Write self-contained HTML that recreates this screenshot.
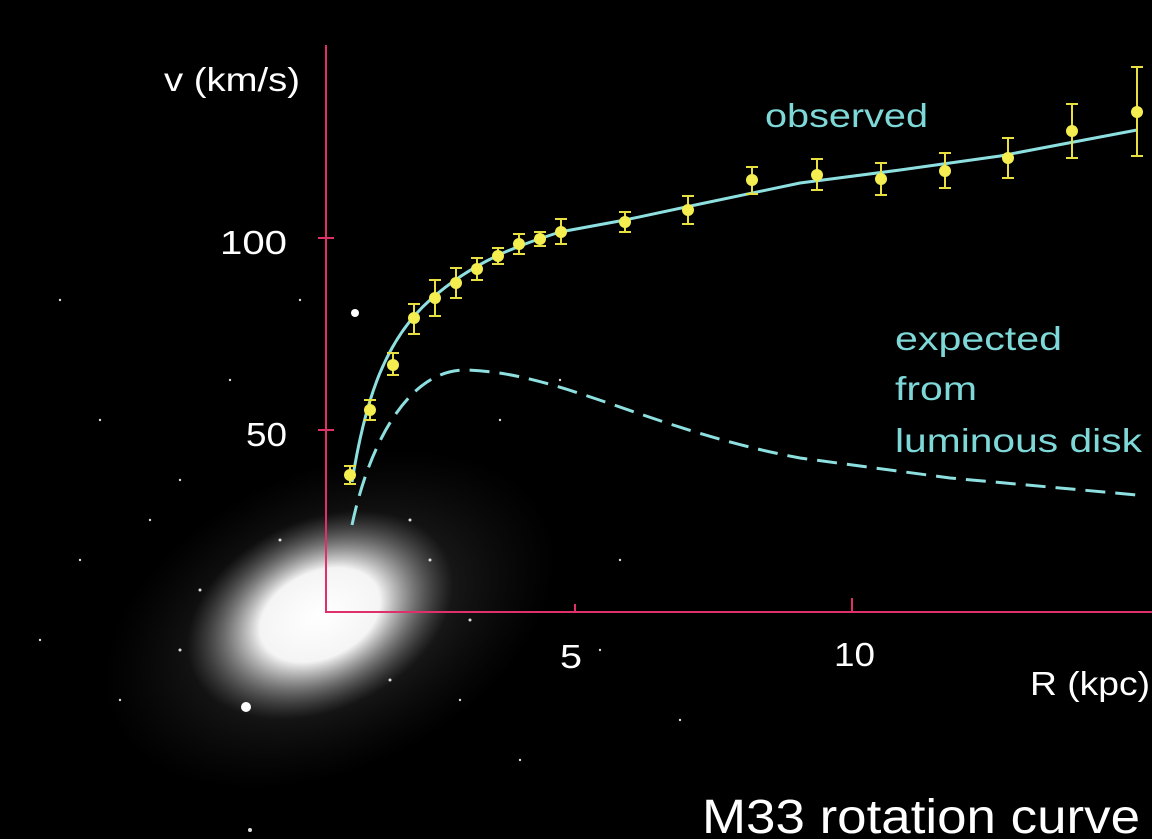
<!DOCTYPE html>
<html><head><style>
html,body{margin:0;padding:0;background:#000;overflow:hidden;width:1152px;height:839px;}
svg{display:block;}
text{font-family:"Liberation Sans",sans-serif;}
</style></head><body>
<svg width="1152" height="839" viewBox="0 0 1152 839" xmlns="http://www.w3.org/2000/svg">
<defs>
<radialGradient id="g1" cx="50%" cy="50%" r="50%">
<stop offset="0" stop-color="#fff" stop-opacity="1"/>
<stop offset="0.45" stop-color="#fff" stop-opacity="0.95"/>
<stop offset="0.7" stop-color="#ccc" stop-opacity="0.5"/>
<stop offset="1" stop-color="#888" stop-opacity="0"/>
</radialGradient>
<radialGradient id="g2" cx="50%" cy="50%" r="50%">
<stop offset="0" stop-color="#aaa" stop-opacity="0.4"/>
<stop offset="1" stop-color="#555" stop-opacity="0"/>
</radialGradient>
</defs>
<rect width="1152" height="839" fill="#000"/>
<ellipse cx="330" cy="620" rx="240" ry="150" fill="url(#g2)" transform="rotate(-25 330 620)"/>
<ellipse cx="320" cy="615" rx="140" ry="95" fill="url(#g1)" transform="rotate(-25 320 615)"/>
<g fill="#ddd">
<circle cx="355" cy="313" r="4" fill="#fff"/><circle cx="246" cy="707" r="5" fill="#fff"/>
<circle cx="100" cy="420" r="1.2"/><circle cx="60" cy="300" r="1.2"/><circle cx="150" cy="520" r="1.2"/>
<circle cx="180" cy="480" r="1.2"/><circle cx="40" cy="640" r="1.2"/><circle cx="120" cy="700" r="1.2"/>
<circle cx="460" cy="700" r="1.2"/><circle cx="520" cy="760" r="1.2"/><circle cx="600" cy="650" r="1.2"/>
<circle cx="500" cy="420" r="1.2"/><circle cx="560" cy="380" r="1.2"/><circle cx="620" cy="560" r="1.2"/>
<circle cx="680" cy="720" r="1.2"/><circle cx="250" cy="830" r="2"/><circle cx="200" cy="590" r="1.5"/>
<circle cx="430" cy="560" r="1.5"/><circle cx="470" cy="620" r="1.5"/><circle cx="390" cy="680" r="1.5"/>
<circle cx="280" cy="540" r="1.5"/><circle cx="410" cy="520" r="1.5"/><circle cx="180" cy="650" r="1.5"/>
<circle cx="300" cy="300" r="1.2"/><circle cx="230" cy="380" r="1.2"/><circle cx="80" cy="560" r="1.2"/>
</g>
<g stroke="#e0306a" stroke-width="2" fill="none">
<line x1="326" y1="45" x2="326" y2="613"/>
<line x1="326" y1="612" x2="1152" y2="612"/>
<line x1="318" y1="238" x2="334" y2="238"/>
<line x1="318" y1="430" x2="334" y2="430"/>
<line x1="575" y1="604" x2="575" y2="612"/>
<line x1="852" y1="598" x2="852" y2="612"/>
</g>
<g fill="#fff" font-size="33">
<text x="164" y="91" textLength="136" lengthAdjust="spacingAndGlyphs">v (km/s)</text>
<text x="220" y="254" textLength="67" lengthAdjust="spacingAndGlyphs">100</text>
<text x="246" y="446" textLength="41" lengthAdjust="spacingAndGlyphs">50</text>
<text x="560" y="668" textLength="22" lengthAdjust="spacingAndGlyphs">5</text>
<text x="834" y="666" textLength="41" lengthAdjust="spacingAndGlyphs">10</text>
<text x="1030" y="695" textLength="120" lengthAdjust="spacingAndGlyphs">R (kpc)</text>
<text x="702" y="833" font-size="48" textLength="438" lengthAdjust="spacingAndGlyphs">M33 rotation curve</text>
</g>
<g fill="#7fd8d8" font-size="33">
<text x="765" y="127" textLength="163" lengthAdjust="spacingAndGlyphs">observed</text>
<text x="895" y="350" textLength="167" lengthAdjust="spacingAndGlyphs">expected</text>
<text x="895" y="400" textLength="82" lengthAdjust="spacingAndGlyphs">from</text>
<text x="895" y="452" textLength="247" lengthAdjust="spacingAndGlyphs">luminous disk</text>
</g>
<path d="M352 482 C 365 400, 385 340, 430 300 S 520 245, 560 232 L 625 220 L 700 204 L 800 183 L 900 170 L 1000 156 L 1137 130" stroke="#8ee0e0" stroke-width="3" fill="none"/>
<path d="M352 525 C 370 440, 410 370, 465 370 C 560 372, 650 430, 800 458 L 950 478 L 1137 495" stroke="#8ee0e0" stroke-width="3" fill="none" stroke-dasharray="20 10"/>
<g stroke="#e8e040" stroke-width="2">
<path d="M350 466V484M344 466h12M344 484h12"/>
<path d="M370 400V420M364 400h12M364 420h12"/>
<path d="M393 353V375M387 353h12M387 375h12"/>
<path d="M414 304V334M408 304h12M408 334h12"/>
<path d="M435 280V316M429 280h12M429 316h12"/>
<path d="M456 268V298M450 268h12M450 298h12"/>
<path d="M477 258V280M471 258h12M471 280h12"/>
<path d="M498 248V264M492 248h12M492 264h12"/>
<path d="M519 234V254M513 234h12M513 254h12"/>
<path d="M540 232V246M534 232h12M534 246h12"/>
<path d="M561 219V244M555 219h12M555 244h12"/>
<path d="M625 212V232M619 212h12M619 232h12"/>
<path d="M688 196V224M682 196h12M682 224h12"/>
<path d="M752 167V194M746 167h12M746 194h12"/>
<path d="M817 159V190M811 159h12M811 190h12"/>
<path d="M881 163V195M875 163h12M875 195h12"/>
<path d="M945 153V188M939 153h12M939 188h12"/>
<path d="M1008 138V178M1002 138h12M1002 178h12"/>
<path d="M1072 104V158M1066 104h12M1066 158h12"/>
<path d="M1137 67V156M1131 67h12M1131 156h12"/>
</g>
<g fill="#f4ee50">
<circle cx="350" cy="475" r="6"/><circle cx="370" cy="410" r="6"/><circle cx="393" cy="365" r="6"/>
<circle cx="414" cy="318" r="6"/><circle cx="435" cy="298" r="6"/><circle cx="456" cy="283" r="6"/>
<circle cx="477" cy="269" r="6"/><circle cx="498" cy="256" r="6"/><circle cx="519" cy="244" r="6"/>
<circle cx="540" cy="239" r="6"/><circle cx="561" cy="232" r="6"/><circle cx="625" cy="222" r="6"/>
<circle cx="688" cy="210" r="6"/><circle cx="752" cy="180" r="6"/><circle cx="817" cy="175" r="6"/>
<circle cx="881" cy="179" r="6"/><circle cx="945" cy="171" r="6"/><circle cx="1008" cy="158" r="6"/>
<circle cx="1072" cy="131" r="6"/><circle cx="1137" cy="112" r="6"/>
</g>
</svg>
</body></html>
